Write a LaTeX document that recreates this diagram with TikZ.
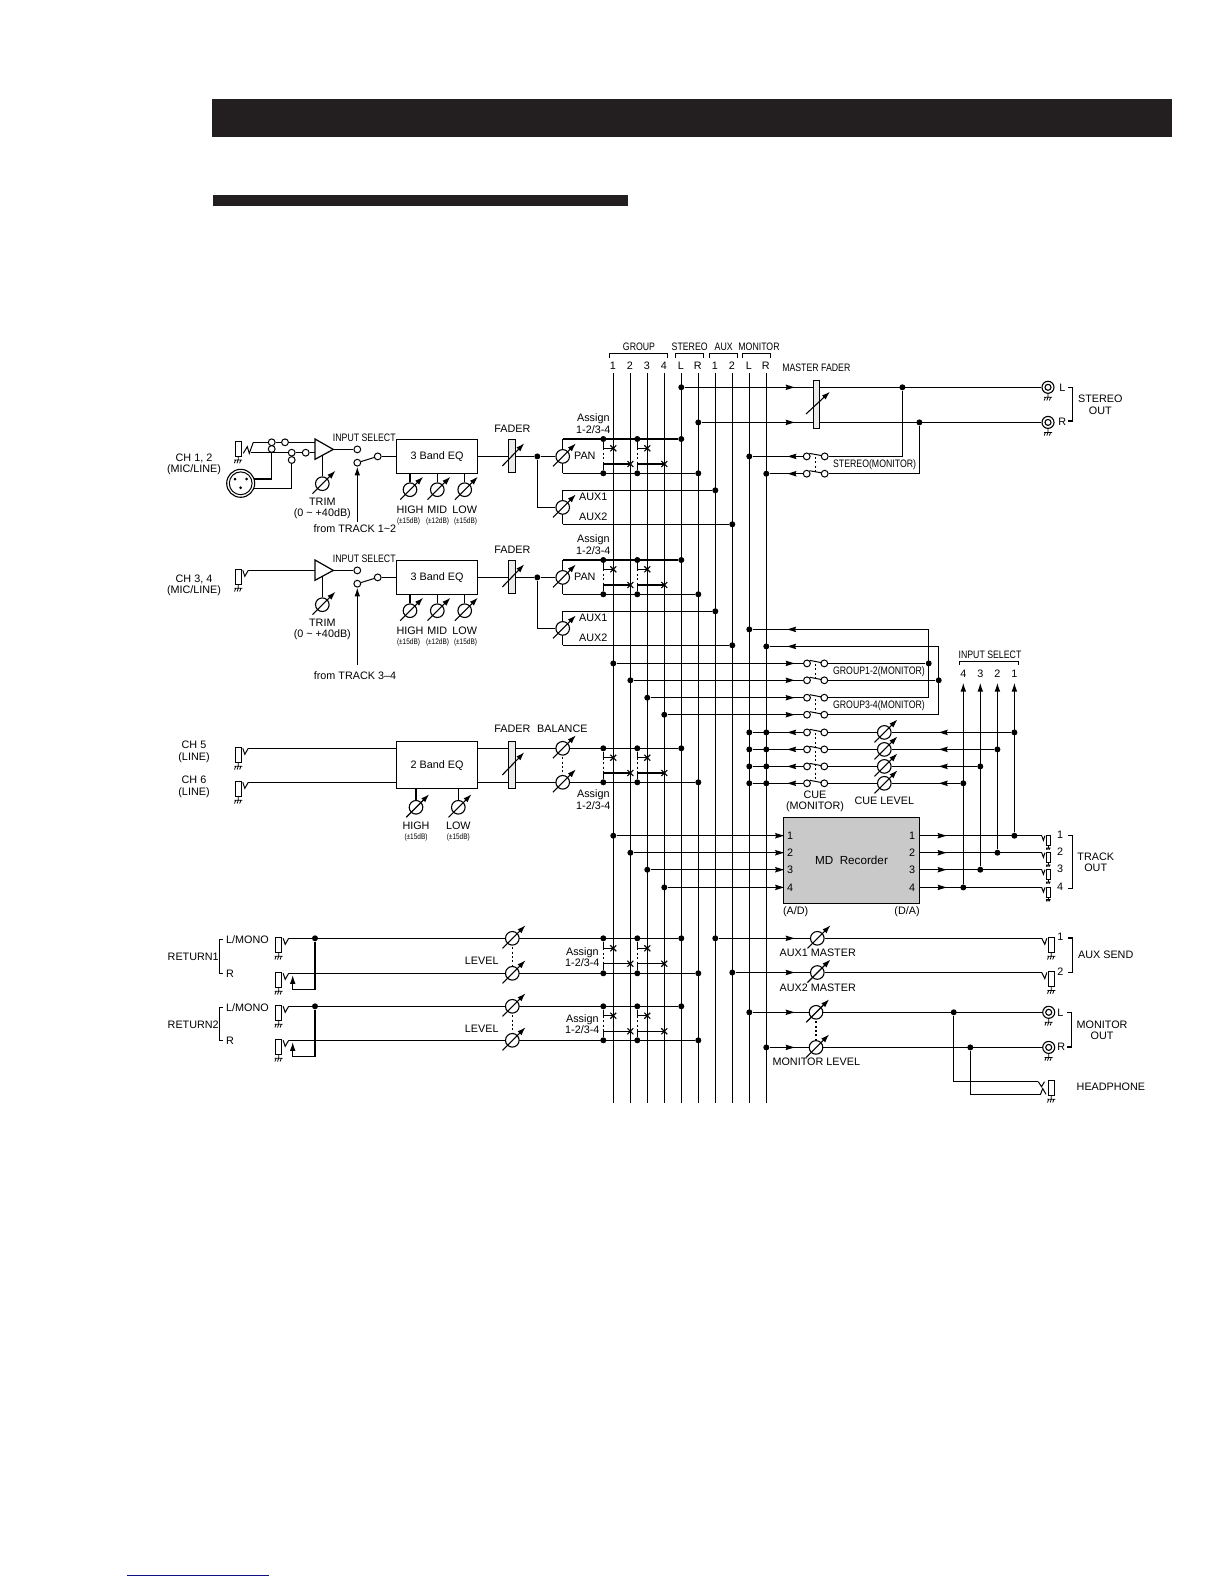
\documentclass[tikz,border=0pt]{standalone}
\usepackage{fontspec}
\setmainfont{Liberation Sans}
\newfontfamily\cnd[FakeStretch=0.81]{Liberation Sans}
\usetikzlibrary{arrows.meta,shapes.misc}
\newcounter{tc}
\definecolor{barc}{HTML}{231F20}
\definecolor{bluec}{HTML}{101082}
\tikzset{
 wire/.style={line width=0.58pt,line cap=butt},
 thin wire/.style={line width=0.5pt},
 dotted wire/.style={line width=0.55pt,dash pattern=on 1pt off 1.2pt},
 txt/.style={inner sep=0,font=\fontsize{5.4}{5.7}\selectfont,align=center},
 cond/.style={inner sep=0,font=\cnd\fontsize{5.4}{5.7}\selectfont,align=center},
 tiny/.style={inner sep=0,font=\cnd\fontsize{4}{4}\selectfont,align=center},
 dotn/.style={circle,fill=black,inner sep=0,minimum size=3pt},
 swn/.style={circle,draw,fill=white,inner sep=0,minimum size=3.4pt,line width=0.5pt},
 knobn/.style={circle,draw,fill=white,inner sep=0,minimum size=6.8pt,line width=0.55pt},
 knobarr/.style={line width=0.55pt,-{Latex[length=4.2pt,width=2.8pt]}},
 uparr/.style={wire,-{Latex[length=4.4pt,width=2.8pt]}},
 boxn/.style={draw,fill=white,inner sep=0,line width=0.6pt,minimum width=40.7pt,font=\fontsize{5.4}{5.7}\selectfont},
 fadern/.style={draw,fill=black!8,inner sep=0,line width=0.45pt,minimum width=3.2pt},
 jackn/.style={draw,fill=white,inner sep=0,line width=0.55pt,minimum width=3pt,minimum height=7.5pt},
 jacks/.style={draw,fill=white,inner sep=0,line width=0.5pt,minimum width=2.4pt,minimum height=5pt},
 xn/.style={cross out,draw,inner sep=0,minimum size=2.4pt,line width=0.55pt},
 bracket/.style={line width=0.55pt},
 gnd/.style={line width=0.4pt},
}
% text
\newcommand\xT[4][]{\stepcounter{tc}\node[txt,#1] (t\thetc) at (#2,#3) {#4};}
\newcommand\xC[4][]{\stepcounter{tc}\node[cond,#1] (t\thetc) at (#2,#3) {#4};}
\newcommand\xS[3]{\stepcounter{tc}\node[tiny] (t\thetc) at (#1,#2) {#3};}
% parts
\newcommand\xDot[3]{\node[dotn] (#1) at (#2,#3) {};}
\newcommand\xKnob[3]{\node[knobn] (#1) at (#2,#3) {};\draw[knobarr] ([shift={(-9.8,10)}]#1.center) -- ([shift={(13.2,-13)}]#1.center);}
\newcommand\xAr[2]{\fill (#1-4.5,#2-2.8) -- (#1+4.5,#2) -- (#1-4.5,#2+2.8) -- (#1-3.3,#2) -- cycle;}
\newcommand\xAl[2]{\fill (#1+4.5,#2-2.8) -- (#1-4.5,#2) -- (#1+4.5,#2+2.8) -- (#1+3.3,#2) -- cycle;}
\newcommand\xGnd[3][1]{\draw[gnd] (#2,#3) -- ++(0,4*#1) ++(-4*#1,0) -- ++(8*#1,0) (#2-2.6*#1,#3+4*#1) -- ++(-1.2*#1,3.2*#1) (#2,#3+4*#1) -- ++(-1.2*#1,3.2*#1) (#2+2.6*#1,#3+4*#1) -- ++(-1.2*#1,3.2*#1);}
% left jack: rectangle left edge x, wire y
\newcommand\xJackL[3]{\node[jackn] (#1) at (#2+3,#3+6.5) {};\xGnd{#2+3}{#3+14}\coordinate (#1-t) at (#2+13,#3);\draw[thin wire] (#2+7.5,#3) -- (#2+9.5,#3+6) -- (#1-t);}
\newcommand\xJackR[3]{\node[jackn] (#1) at (#2+3,#3+6.5) {};\xGnd{#2+3}{#3+14}\coordinate (#1-t) at (#2-6.5,#3);\draw[thin wire] (#1-t) -- (#2-3.5,#3+6) -- (#2-1.5,#3);}
\newcommand\xJackS[3]{\node[jacks] (#1) at (#2+2.4,#3+5) {};\xGnd[0.55]{#2+2.4}{#3+10}\coordinate (#1-t) at (#2-4.3,#3);\draw[thin wire] (#1-t) -- (#2-2.6,#3+4.6) -- (#2-1,#3);}
\newcommand\xRCA[3]{\node[circle,draw,fill=white,inner sep=0,minimum size=6pt,line width=0.55pt] (#1) at (#2,#3) {};\node[circle,draw,inner sep=0,minimum size=3pt,line width=0.55pt] (#1-i) at (#2,#3) {};\xGnd{#2}{#3+6}}
% switch with lever
\newcommand\xSw[4]{\node[swn] (#1-l) at (#2,#4) {};\node[swn] (#1-r) at (#3,#4) {};\draw[thin wire] (#2+2.8,#4-3) -- (#3-3,#4-0.8);}
% assign block
\newcommand\xAssign[5]{%
 \xDot{#1a}{603.3}{#2}\xDot{#1b}{637.3}{#2}\xDot{#1c}{603.3}{#3}\xDot{#1d}{637.3}{#3}\xDot{#1L}{681.3}{#2}\xDot{#1R}{698.3}{#3}
 \node[xn] (#1x1) at (613.3,#4) {};\node[xn] (#1x2) at (647.3,#4) {};\node[xn] (#1x3) at (630.4,#5) {};\node[xn] (#1x4) at (664.3,#5) {};
 \draw[wire] (#1a) |- (#1x1.center);\draw[wire] (#1b) |- (#1x2.center);\draw[wire] (#1c) |- (#1x3.center);\draw[wire] (#1d) |- (#1x4.center);
 \draw[dotted wire] (603.3,#4) -- (603.3,#5);\draw[dotted wire] (637.3,#4) -- (637.3,#5);}
\begin{document}
\begin{tikzpicture}[x=0.5pt,y=-0.5pt]
\useasboundingbox (0,0) rectangle (1224,1584);
\fill[white] (0,0) rectangle (1224,1584);
\fill[barc] (212,99) rectangle (1172,136.7);
\fill[barc] (213,195) rectangle (628,206);
\draw[bluec,line width=0.6pt] (127,1575.3) -- (269,1575.3);
% ---- buses
\foreach \n/\x/\l in {g1/613.3/1,g2/630.4/2,g3/647.3/3,g4/664.3/4,sl/681.3/L,sr/698.3/R,a1/715.3/1,a2/732.3/2,ml/749.3/L,mr/766.3/R}{
 \coordinate (\n t) at (\x,373);\coordinate (\n b) at (\x,1103);
 \draw[wire] (\n t) -- (\n b);
 \xT{\x-0.5}{366}{\l}
}
\xC{639}{347}{GROUP}\xC{689.7}{347}{STEREO}\xC{723.7}{347}{AUX}\xC{759}{347}{MONITOR}
\draw[bracket] (609.3,358) |- (667.7,353.3) -- (667.7,358);
\draw[bracket] (675.3,358) |- (703.7,353.3) -- (703.7,358);
\draw[bracket] (709.3,358) |- (737.7,353.3) -- (737.7,358);
\draw[bracket] (742.3,358) |- (770.3,353.3) -- (770.3,358);
% ---- channel strips 1-2 / 3-4
\foreach \p/\dy in {a/0,b/121}{
 \node[boxn,minimum height=16.7pt] (\p eq) at (437,456.4+\dy) {3 Band EQ};
 \xC{364.3}{437.3+\dy}{INPUT SELECT}
 % opamp
 \coordinate (\p o1) at (315,439+\dy);\coordinate (\p o2) at (315,459.3+\dy);\coordinate (\p o3) at (333.3,449.4+\dy);
 \draw[line width=0.6pt] (\p o1) -- (\p o3) -- (\p o2) -- cycle;
 \node[swn] (\p s1) at (357.3,449.4+\dy) {};\node[swn] (\p s2) at (357.3,462.7+\dy) {};\node[swn] (\p s3) at (377.7,456.4+\dy) {};
 \draw[wire] (\p o3) -- (\p s1);\draw[thin wire] (\p s2) -- (\p s3);\draw[wire] (\p s3) -- (\p eq.west |- \p s3);
 % trim
 \coordinate (\p o4) at (322.3,454.8+\dy);
 \xKnob{\p trim}{322.3}{483.7+\dy}
 \draw[wire] (\p o4) -- (\p trim);
 \xT{322.3}{508.3+\dy}{TRIM\\(0 \textasciitilde\ +40dB)}
 % eq knobs
 \xKnob{\p hi}{410}{489.7+\dy}\xKnob{\p mi}{437.3}{489.7+\dy}\xKnob{\p lo}{464.7}{489.7+\dy}
 \draw[wire] (\p hi) -- (\p hi |- \p eq.south);\draw[wire] (\p mi) -- (\p mi |- \p eq.south);\draw[wire] (\p lo) -- (\p lo |- \p eq.south);
 \xT{410}{509.7+\dy}{HIGH}\xT{437.3}{509.7+\dy}{MID}\xT{464.7}{509.7+\dy}{LOW}
 \xS{408.5}{521.3+\dy}{(±15dB)}\xS{437.5}{521.3+\dy}{(±12dB)}\xS{465.5}{521.3+\dy}{(±15dB)}
 % fader, pan
 \xDot{\p d}{537.3}{456.4+\dy}
 \draw[wire] (\p eq.east) -- (\p d);
 \node[fadern,minimum height=16.5pt] (\p f) at (511.8,456.2+\dy) {};
 \draw[knobarr] (502.3,466+\dy) -- (524.3,443.3+\dy);
 \xT{512.3}{428.3+\dy}{FADER}
 \draw[wire] (562.7,439+\dy) -- (562.7,473.3+\dy);
 \xAssign{\p p}{439+\dy}{473.3+\dy}{448.3+\dy}{464+\dy}
 \draw[wire] (562.7,439+\dy) -- (\p pL);\draw[wire] (562.7,473.3+\dy) -- (\p pR);
 \xKnob{\p pan}{562.7}{456.4+\dy}
 \draw[wire] (\p d) -- (\p pan);
 \xT[anchor=west]{573.7}{456+\dy}{PAN}
 \xT{593.3}{423.5+\dy}{Assign\\1-2/3-4}
 % aux
 \draw[wire] (562.7,490.3+\dy) -- (562.7,524.3+\dy);
 \xDot{\p x1}{715.3}{490.3+\dy}\xDot{\p x2}{732.3}{524.3+\dy}
 \draw[wire] (562.7,490.3+\dy) -- (\p x1);\draw[wire] (562.7,524.3+\dy) -- (\p x2);
 \xKnob{\p aux}{562.7}{507.4+\dy}
 \draw[wire] (\p d) |- (\p aux);
 \xT{593.3}{496.7+\dy}{AUX1}\xT{593.3}{517+\dy}{AUX2}
}
% CH 1,2 input
\xT{194}{464.3}{CH 1, 2\\(MIC/LINE)}
\node[jackn] (j1) at (238.2,448.7) {};\xGnd{238.2}{456}
\draw[thin wire] (243.3,453.3) -- (247.3,446.7) -- (249.3,453.3) -- (253.3,442.3);
\coordinate (j1t) at (253.3,442.3);\coordinate (j1u) at (250.7,452.7);
\node[swn] (s1a) at (271.7,442.3) {};\node[swn] (s1b) at (285,442.3) {};\node[swn] (s1c) at (271.7,449) {};
\node[swn] (s2a) at (291.7,452.7) {};\node[swn] (s2b) at (305.7,452.7) {};\node[swn] (s2c) at (291.7,460) {};
\coordinate (ai1) at (315,442.3);\coordinate (ai2) at (315,452.7);
\draw[wire] (j1t) -- (s1a);\draw[thin wire] (s1a) -- (s1b);\draw[wire] (s1b) -- (ai1);
\draw[wire] (j1u) -- (s2a);\draw[thin wire] (s2a) -- (s2b);\draw[wire] (s2b) -- (ai2);
\node[circle,draw,fill=white,inner sep=0,minimum size=14pt,line width=0.55pt] (xlr) at (240.7,483.3) {};
\node[circle,draw,inner sep=0,minimum size=11.4pt,line width=0.5pt] (xlri) at (240.7,483.3) {};
\node[dotn,minimum size=1.5pt] (p1) at (235,479) {};\node[dotn,minimum size=1.5pt] (p2) at (246.7,479) {};\node[dotn,minimum size=1.5pt] (p3) at (240.7,487.7) {};
\coordinate (xa) at (254.3,479);\coordinate (xb) at (252.5,488.3);
\draw[wire] (s1c) |- (xa);\draw[wire] (s2c) |- (xb);
\coordinate (ft1) at (357.3,521.7);
\draw[uparr] (ft1) -- (as2);
\xT{355}{528.7}{from TRACK 1\textasciitilde 2}
% CH 3,4 input
\xT{194}{585.2}{CH 3, 4\\(MIC/LINE)}
\xJackL{j3}{235.3}{570.3}
\coordinate (bi) at (315,570.3);
\draw[wire] (j3-t) -- (bi);
\coordinate (ft3) at (357.3,665);
\draw[uparr] (ft3) -- (bs2);
\xT{355}{675.7}{from TRACK 3\textendash 4}
% CH 5/6
\xT{194}{752}{CH 5\\(LINE)}\xT{194}{787}{CH 6\\(LINE)}
\xJackL{j5}{235.3}{748.3}\xJackL{j6}{235.3}{782.3}
\node[boxn,minimum height=23.5pt] (ceq) at (437,765.2) {2 Band EQ};
\draw[wire] (j5-t) -- (ceq.west |- j5-t);\draw[wire] (j6-t) -- (ceq.west |- j6-t);
\xKnob{chi}{416}{807.3}\xKnob{clo}{458.3}{807.3}
\draw[wire] (chi) -- (chi |- ceq.south);\draw[wire] (clo) -- (clo |- ceq.south);
\xT{416}{826}{HIGH}\xT{458.3}{826}{LOW}\xS{416}{837.3}{(±15dB)}\xS{458.3}{837.3}{(±15dB)}
\xAssign{cp}{748.3}{782.3}{757.7}{773}
\coordinate (ce1) at (ceq.east |- cpL);\coordinate (ce2) at (ceq.east |- cpR);
\draw[wire] (ce1) -- (cpL);\draw[wire] (ce2) -- (cpR);
\node[fadern,minimum height=23.5pt] (cf) at (511.8,765.2) {};
\draw[knobarr] (502.3,775) -- (524.3,752.3);
\xT{512.3}{728.3}{FADER}\xT{562.3}{728.3}{BALANCE}
\draw[dotted wire] (562.7,748.3) -- (562.7,782.3);
\xKnob{cb1}{562.7}{748.3}\xKnob{cb2}{562.7}{782.3}
\xT{593.3}{799.5}{Assign\\1-2/3-4}
% RETURNS
\foreach \p/\ya/\yb/\bra/\brb/\asg/\rn in {r/938.3/973.3/948.3/963.7/957/RETURN1,q/1006.3/1040.3/1015.7/1031.3/1024.4/RETURN2}{
 \xT[anchor=west]{167.3}{\ya+18.5}{\rn}
 \draw[bracket] (223,\ya+1) -| (219.3,\yb) -- (223,\yb);
 \xT[anchor=west]{225.7}{\ya+1}{L/MONO}\xT[anchor=west]{225.7}{\yb+0.4}{R}
 \xJackL{\p j1}{275.7}{\ya}\xJackL{\p j2}{275.7}{\yb}
 \xDot{\p t}{315}{\ya}
 \xAssign{\p p}{\ya}{\yb}{\bra}{\brb}
 \draw[wire] (\p j1-t) -- (\p pL);\draw[wire] (\p j2-t) -- (\p pR);
 \coordinate (\p lp) at (292.7,\yb+16);\coordinate (\p lq) at (292.7,\yb+1.7);
 \draw[uparr] (\p t) |- (\p lp) -- (\p lq);
 \draw[dotted wire] (512.3,\ya) -- (512.3,\yb);
 \xKnob{\p k1}{512.3}{\ya}\xKnob{\p k2}{512.3}{\yb}
 \xT{481.7}{\ya+22.6}{LEVEL}
 \xT{582.3}{\asg}{Assign\\1-2/3-4}
}
% ---- master section
\xDot{ml1}{681.3}{387.3}\xDot{mr1}{698.3}{422.4}\xDot{ol}{902.4}{387.3}\xDot{or}{919.4}{422.4}
\xRCA{rl}{1048}{387.3}\xRCA{rr}{1048}{422.4}
\draw[wire] (ml1) -- (rl);\draw[wire] (mr1) -- (rr);
\xAr{790}{387.3}\xAr{790}{422.4}
\node[fadern,minimum height=23.8pt] (mf) at (816.5,404.5) {};
\draw[knobarr] (806,414) -- (830,391.7);
\xC{816.3}{368}{MASTER FADER}
\xT[anchor=west]{1059}{387.3}{L}\xT[anchor=west]{1058}{421.5}{R}
\draw[bracket] (1068,387.3) -| (1072.7,421) -- (1068,421);
\xT[anchor=west]{1077.7}{404.7}{STEREO\\OUT}
% stereo(monitor)
\xDot{dsl}{749.3}{456.4}\xDot{dsr}{766.3}{473.7}
\xSw{ss1}{806.7}{824.7}{456.4}\xSw{ss2}{806.7}{824.7}{473.7}
\draw[wire] (ol) |- (ss1-r);\draw[wire] (or) |- (ss2-r);
\draw[wire] (ss1-l) -- (dsl);\draw[wire] (ss2-l) -- (dsr);
\xAl{792}{456.4}\xAl{792}{473.7}
\draw[dotted wire] (815.5,457) -- (815.5,472);
\xC[anchor=west]{832.7}{464.3}{STEREO(MONITOR)}
% group monitor
\xDot{gm1}{749.3}{629.4}\xDot{gm2}{766.3}{646.4}
\xDot{gn1}{928.7}{663.4}\xDot{gn2}{938.7}{680.3}
\coordinate (gc1) at (928.7,629.4);\coordinate (gc2) at (938.7,646.4);\coordinate (gc3) at (928.7,697.7);\coordinate (gc4) at (938.7,714.7);
\xDot{g1m}{613.3}{663.4}\xDot{g2m}{630.4}{680.3}\xDot{g3m}{647.3}{697.7}\xDot{g4m}{664.3}{714.7}
\xSw{sg1}{807}{824.3}{663.4}\xSw{sg2}{807}{824.3}{680.3}\xSw{sg3}{807}{824.3}{697.7}\xSw{sg4}{807}{824.3}{714.7}
\draw[wire] (gm1) -- (gc1) -- (gc3) -- (sg3-r);
\draw[wire] (gm2) -- (gc2) -- (gc4) -- (sg4-r);
\draw[wire] (gn1) -- (sg1-r);\draw[wire] (gn2) -- (sg2-r);
\draw[wire] (g1m) -- (sg1-l);\draw[wire] (g2m) -- (sg2-l);\draw[wire] (g3m) -- (sg3-l);\draw[wire] (g4m) -- (sg4-l);
\xAl{791.7}{629.4}\xAl{791.7}{646.4}
\xAr{790}{663.4}\xAr{790}{680.3}\xAr{790}{697.7}\xAr{790}{714.7}
\draw[dotted wire] (815.7,664) -- (815.7,679);\draw[dotted wire] (815.7,699) -- (815.7,713);
\xC[anchor=west]{832.7}{671.3}{GROUP1-2(MONITOR)}\xC[anchor=west]{832.7}{705.7}{GROUP3-4(MONITOR)}
% input select return + cue
\xC{990}{655}{INPUT SELECT}
\draw[bracket] (959.3,665) |- (1018.7,661.7) -- (1018.7,665);
\foreach \i/\y/\xr/\yb/\tag in {1/732.4/1014.4/835.7/1,2/749.4/997.4/852.7/2,3/766.4/980.3/869.7/3,4/783.3/963.3/887.4/4}{
 \xDot{cl\i}{749.3}{\y}\xDot{cr\i}{766.3}{\y}
 \xSw{cs\i}{807}{824.3}{\y}
 \xKnob{ck\i}{884.3}{\y}
 \xDot{ci\i}{\xr}{\y}\xDot{co\i}{\xr}{\yb}
 \coordinate (ctip\i) at (\xr,682.7);
 \draw[wire] (ci\i) -- (ck\i);\draw[wire] (ck\i) -- (cs\i-r);\draw[wire] (cs\i-l) -- (cl\i);
 \xAl{943.3}{\y}\xAl{791.7}{\y}
 \draw[uparr] (co\i) -- (ctip\i);
 \xT{\xr}{674}{\tag}
}
\draw[dotted wire] (815.7,733) -- (815.7,782);
\xT{815}{801.3}{CUE\\(MONITOR)}\xT{884.3}{800.7}{CUE LEVEL}
% MD recorder
\node[draw,fill=black!21,inner sep=0,line width=0.6pt,minimum width=67.8pt,minimum height=43pt,font=\fontsize{5.85}{6}\selectfont] (md) at (851.5,860.3) {MD\ \ Recorder};
\xT{795.7}{911.7}{(A/D)}\xT{907}{911.7}{(D/A)}
\foreach \i/\y/\gx in {1/835.7/613.3,2/852.7/630.4,3/869.7/647.3,4/887.4/664.3}{
 \xDot{mi\i}{\gx}{\y}
 \xJackS{tj\i}{1046}{\y}
 \draw[wire] (mi\i) -- (md.west |- mi\i);
 \coordinate (me\i) at (md.east |- mi\i);
 \draw[wire] (me\i) -- (tj\i-t);
 \xAr{779.5}{\y}\xAr{942}{\y}
 \xT{790}{\y}{\i}\xT{912}{\y}{\i}\xT{1060}{\y-0.5}{\i}
}
\draw[bracket] (1068,835.7) -| (1072.3,888.3) -- (1068,888.3);
\xT{1095.7}{862}{TRACK\\OUT}
% aux send
\xDot{ax1}{715.3}{938.3}\xDot{ax2}{732.3}{972.5}
\xKnob{am1}{817.3}{938.3}\xKnob{am2}{817.3}{972.5}
\xJackR{as1}{1048.3}{938.3}\xJackR{as2x}{1048.3}{972.5}
\draw[wire] (ax1) -- (am1);\draw[wire] (am1) -- (as1-t);
\draw[wire] (ax2) -- (am2);\draw[wire] (am2) -- (as2x-t);
\xAr{790}{938.3}\xAr{790}{972.5}
\xT{817.7}{952.7}{AUX1 MASTER}\xT{817.7}{987.3}{AUX2 MASTER}
\xT{1060.3}{937}{1}\xT{1060.3}{972}{2}
\draw[bracket] (1068,938) -| (1072.7,972.3) -- (1068,972.3);
\xT[anchor=west]{1077.7}{955}{AUX SEND}
% monitor out
\xDot{mo1}{749.3}{1012.3}\xDot{mo2}{766.3}{1047.4}
\draw[dotted wire] (816,1012.3) -- (816,1047.4);
\xKnob{mk1}{816}{1012.3}\xKnob{mk2}{816}{1047.4}
\xDot{hp1}{953.7}{1012.3}\xDot{hp2}{970.3}{1047.4}
\xRCA{ml}{1048.7}{1012.3}\xRCA{mr}{1048.7}{1047.4}
\draw[wire] (mo1) -- (mk1);\draw[wire] (mk1) -- (ml);
\draw[wire] (mo2) -- (mk2);\draw[wire] (mk2) -- (mr);
\xAr{790}{1012.3}\xAr{790}{1047.4}
\xT{816.3}{1062}{MONITOR LEVEL}
\xT[anchor=west]{1057}{1012.3}{L}\xT[anchor=west]{1057}{1047}{R}
\draw[bracket] (1067,1012.7) -| (1071.7,1047) -- (1067,1047);
\xT[anchor=west]{1076.3}{1030}{MONITOR\\OUT}
% headphone
\node[jackn] (hj) at (1051.3,1087.8) {};\xGnd{1051.3}{1095.3}
\coordinate (he1) at (1038.3,1081.7);\coordinate (he2) at (1040.5,1094.3);
\draw[wire] (hp1) |- (he1);\draw[wire] (hp2) |- (he2);
\draw[thin wire] (he1) -- (1041.5,1086.7) -- (1044.5,1081.7);
\draw[thin wire] (he2) -- (1042.7,1088.5) -- (1046,1094.3);
\xT[anchor=west]{1076.3}{1086.7}{HEADPHONE}
\end{tikzpicture}
\end{document}
